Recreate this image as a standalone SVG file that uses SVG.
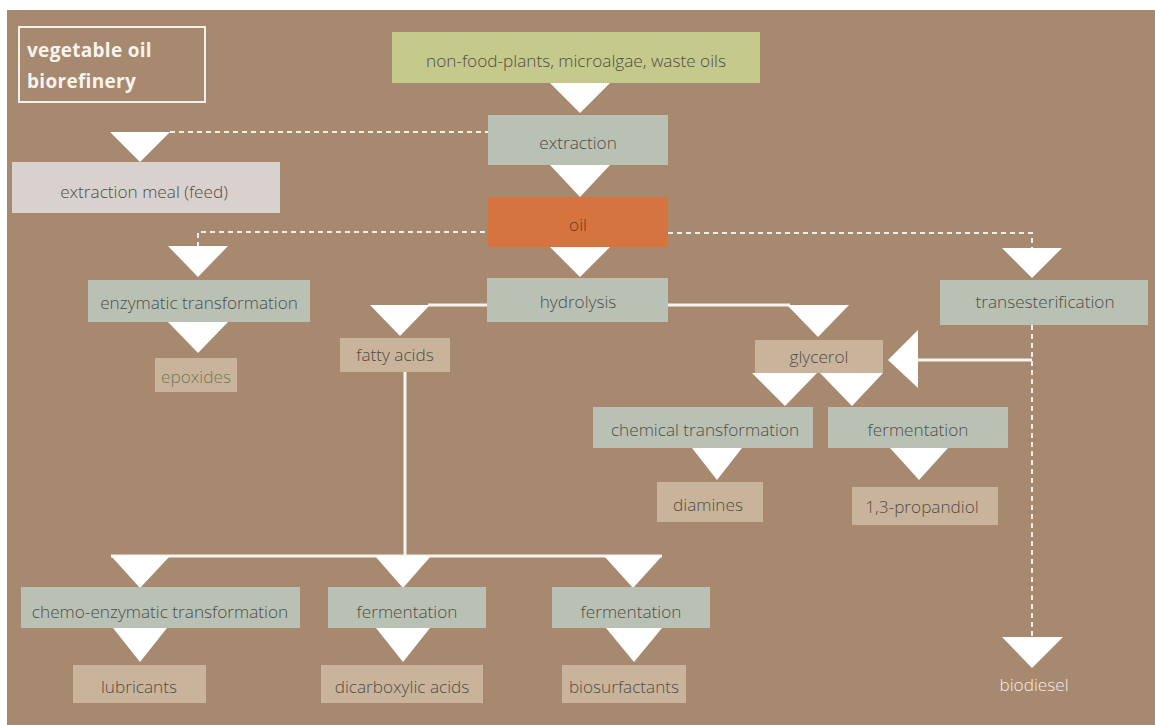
<svg xmlns="http://www.w3.org/2000/svg" width="1155" height="725" viewBox="0 0 1155 725">
<style>
.lbl{font-family:"Open Sans","Noto Sans",sans-serif;font-size:17.2px;font-weight:300;fill:#4f4e48;text-anchor:middle}
.proc{fill:#b9c1b5}
.prod{fill:#c9b49b}
.tri{fill:#ffffff}
.dash{stroke:#f2ede6;stroke-width:2;stroke-dasharray:5 4;fill:none}
.solid{stroke:#f7f4ef;stroke-width:3;fill:none}
.ttl{font-family:"Open Sans","Noto Sans",sans-serif;font-size:19px;font-weight:bold;fill:#f7f4ef;letter-spacing:0.3px}
</style>
<rect x="0" y="0" width="1155" height="725" fill="#ffffff"/>
<rect x="7" y="10" width="1148" height="715" fill="#a7896f"/>
<g id="title">
<rect x="19" y="27" width="186" height="75" fill="none" stroke="#f4f0ea" stroke-width="2"/>
<text class="ttl" x="27" y="57">vegetable oil</text>
<text class="ttl" x="27" y="88">biorefinery</text>
</g>
<g id="connectors">
<polyline class="dash" points="170,132 488,132"/>
<polyline class="dash" points="198,247 198,232 488,232"/>
<polyline class="dash" points="668,233 1032,233 1032,248"/>
<polyline class="dash" points="1032,325 1032,637"/>
<polyline class="solid" points="428,305 488,305"/>
<polyline class="solid" points="668,305 790,305"/>
<polyline class="solid" points="405,372 405,556"/>
<polyline class="solid" points="111,556 662,556"/>
<polyline class="solid" points="918,360 1032,360"/>
<polygon class="tri" points="550,83 610,83 580,113"/>
<polygon class="tri" points="550,165 610,165 580,197"/>
<polygon class="tri" points="550,247 610,247 580,277"/>
<polygon class="tri" points="110,132 170,132 140,162"/>
<polygon class="tri" points="168,246 228,246 198,277"/>
<polygon class="tri" points="168,322 228,322 198,353"/>
<polygon class="tri" points="370,305 430,305 400,336"/>
<polygon class="tri" points="787,305 849,305 818,337"/>
<polygon class="tri" points="1002,248 1062,248 1032,278"/>
<polygon class="tri" points="918,330 918,388 888,360"/>
<polygon class="tri" points="752,373 817,373 785,406"/>
<polygon class="tri" points="820,373 883,373 852,406"/>
<polygon class="tri" points="692,448 742,448 717,480"/>
<polygon class="tri" points="890,448 948,448 919,480"/>
<polygon class="tri" points="111,556 170,556 140,588"/>
<polygon class="tri" points="375,556 431,556 403,588"/>
<polygon class="tri" points="604,556 662,556 633,588"/>
<polygon class="tri" points="113,628 167,628 140,662"/>
<polygon class="tri" points="376,628 430,628 403,662"/>
<polygon class="tri" points="606,628 662,628 634,662"/>
<polygon class="tri" points="1002,637 1063,637 1032,668"/>
</g>
<g id="n-source"><rect x="392" y="32" width="368" height="51" fill="#c6c98c"/><text class="lbl" x="576" y="67">non-food-plants, microalgae, waste oils</text></g>
<g id="n-extraction"><rect class="proc" x="488" y="115" width="180" height="50"/><text class="lbl" x="578" y="149">extraction</text></g>
<g id="n-oil"><rect x="488" y="197" width="180" height="50" fill="#d5743f"/><text class="lbl" x="578" y="231" style="fill:#6a3a20">oil</text></g>
<g id="n-meal"><rect x="12" y="162" width="268" height="51" fill="#d9d1cd"/><text class="lbl" x="144" y="198">extraction meal (feed)</text></g>
<g id="n-enzymatic"><rect class="proc" x="88" y="280" width="222" height="42"/><text class="lbl" x="199" y="309">enzymatic transformation</text></g>
<g id="n-epoxides"><rect class="prod" x="155" y="358" width="82" height="34"/><text class="lbl" x="196" y="383" style="fill:#6e7a5a">epoxides</text></g>
<g id="n-hydrolysis"><rect class="proc" x="487" y="278" width="181" height="44"/><text class="lbl" x="578" y="308">hydrolysis</text></g>
<g id="n-fatty"><rect class="prod" x="340" y="338" width="110" height="34"/><text class="lbl" x="395" y="361">fatty acids</text></g>
<g id="n-trans"><rect class="proc" x="940" y="280" width="208" height="45"/><text class="lbl" x="1045" y="308">transesterification</text></g>
<g id="n-glycerol"><rect class="prod" x="755" y="340" width="128" height="33"/><text class="lbl" x="819" y="363">glycerol</text></g>
<g id="n-chemical"><rect class="proc" x="593" y="407" width="220" height="41"/><text class="lbl" x="705" y="436">chemical transformation</text></g>
<g id="n-ferm1"><rect class="proc" x="828" y="407" width="180" height="41"/><text class="lbl" x="918" y="436">fermentation</text></g>
<g id="n-diamines"><rect class="prod" x="657" y="482" width="106" height="40"/><text class="lbl" x="708" y="511">diamines</text></g>
<g id="n-propandiol"><rect class="prod" x="852" y="487" width="146" height="38"/><text class="lbl" x="922" y="513">1,3-propandiol</text></g>
<g id="n-chemo"><rect class="proc" x="21" y="587" width="279" height="41"/><text class="lbl" x="160" y="618">chemo-enzymatic transformation</text></g>
<g id="n-ferm2"><rect class="proc" x="328" y="587" width="158" height="41"/><text class="lbl" x="407" y="618">fermentation</text></g>
<g id="n-ferm3"><rect class="proc" x="552" y="587" width="158" height="41"/><text class="lbl" x="631" y="618">fermentation</text></g>
<g id="n-lubricants"><rect class="prod" x="73" y="665" width="133" height="38"/><text class="lbl" x="139" y="693">lubricants</text></g>
<g id="n-dicarboxylic"><rect class="prod" x="321" y="665" width="162" height="38"/><text class="lbl" x="402" y="693">dicarboxylic acids</text></g>
<g id="n-biosurf"><rect class="prod" x="562" y="665" width="124" height="38"/><text class="lbl" x="624" y="693">biosurfactants</text></g>
<g id="n-biodiesel"><text class="lbl" x="1034" y="691" style="fill:#f2ede8">biodiesel</text></g>
</svg>
